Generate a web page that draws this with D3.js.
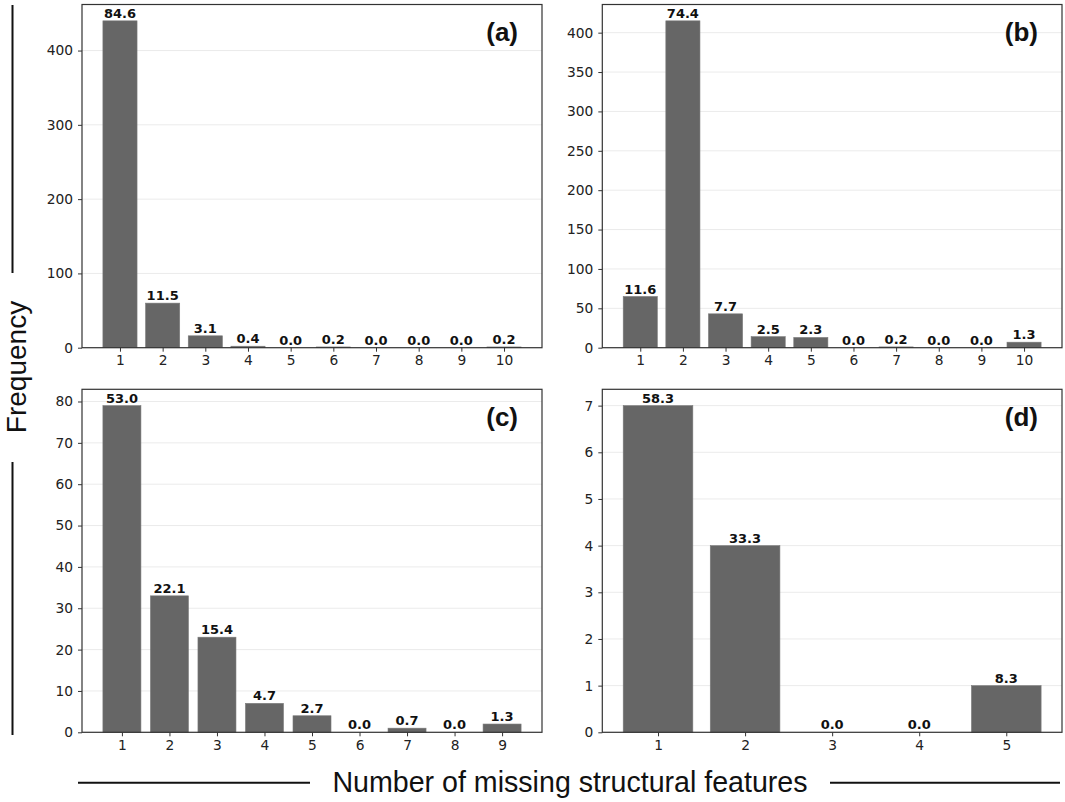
<!DOCTYPE html>
<html><head><meta charset="utf-8">
<script src="https://cdn.jsdelivr.net/npm/d3@7"></script>
<style>body{margin:0;background:#fff}svg{display:block}</style>
</head><body><svg id="chart" width="1065" height="802"></svg>
<script>
// ---- data ----
const panelLabels = ["(a)", "(b)", "(c)", "(d)"];
const categoriesA = [1, 2, 3, 4, 5, 6, 7, 8, 9, 10];
const countsA = [440, 60, 16, 2, 0, 1, 0, 0, 0, 1];
const percentA = ["84.6", "11.5", "3.1", "0.4", "0.0", "0.2", "0.0", "0.0", "0.0", "0.2"];
const yTicksA = [0, 100, 200, 300, 400];

const categoriesB = [1, 2, 3, 4, 5, 6, 7, 8, 9, 10];
const countsB = [65, 415, 43, 14, 13, 0, 1, 0, 0, 7];
const percentB = ["11.6", "74.4", "7.7", "2.5", "2.3", "0.0", "0.2", "0.0", "0.0", "1.3"];
const yTicksB = [0, 50, 100, 150, 200, 250, 300, 350, 400];

const categoriesC = [1, 2, 3, 4, 5, 6, 7, 8, 9];
const countsC = [79, 33, 23, 7, 4, 0, 1, 0, 2];
const percentC = ["53.0", "22.1", "15.4", "4.7", "2.7", "0.0", "0.7", "0.0", "1.3"];
const yTicksC = [0, 10, 20, 30, 40, 50, 60, 70, 80];

const categoriesD = [1, 2, 3, 4, 5];
const countsD = [7, 4, 0, 0, 1];
const percentD = ["58.3", "33.3", "0.0", "0.0", "8.3"];
const yTicksD = [0, 1, 2, 3, 4, 5, 6, 7];

const yAxisTitle = "Frequency";
const xAxisTitle = "Number of missing structural features";

// ---- layout ----
const panels = [
  {label: panelLabels[0], cats: categoriesA, counts: countsA, pct: percentA, ticks: yTicksA, x0: 82,  x1: 542,  y0: 4.5,   y1: 347.7},
  {label: panelLabels[1], cats: categoriesB, counts: countsB, pct: percentB, ticks: yTicksB, x0: 602.3, x1: 1062, y0: 4.5,  y1: 347.7},
  {label: panelLabels[2], cats: categoriesC, counts: countsC, pct: percentC, ticks: yTicksC, x0: 82,  x1: 542,  y0: 389.3, y1: 732.3},
  {label: panelLabels[3], cats: categoriesD, counts: countsD, pct: percentD, ticks: yTicksD, x0: 602.3, x1: 1062, y0: 389.3, y1: 732.3}
];

const svg = d3.select("#chart");
const barColor = "#666666";
const frameColor = "#333333";
const tickFont = "DejaVu Sans, sans-serif";

panels.forEach(p => {
  const lo = d3.min(p.cats) - 0.4, hi = d3.max(p.cats) + 0.4;
  const m = 0.05 * (hi - lo);
  const x = d3.scaleLinear().domain([lo - m, hi + m]).range([p.x0, p.x1]);
  const y = d3.scaleLinear().domain([0, d3.max(p.counts) * 1.05]).range([p.y1, p.y0]);
  const g = svg.append("g");

  // grid
  g.selectAll("line.grid").data(p.ticks).enter().append("line")
    .attr("x1", p.x0).attr("x2", p.x1)
    .attr("y1", d => y(d)).attr("y2", d => y(d))
    .attr("stroke", "#ebebeb").attr("stroke-width", 1);

  // bars
  const bw = x(0.8) - x(0);
  g.selectAll("rect.bar").data(p.cats).enter().append("rect")
    .attr("x", (d) => x(d) - bw / 2)
    .attr("width", bw)
    .attr("y", (d, i) => y(p.counts[i]))
    .attr("height", (d, i) => y(0) - y(p.counts[i]))
    .attr("fill", barColor)
    .attr("stroke", "#7a7a7a").attr("stroke-width", 0.6);

  // value labels
  g.selectAll("text.val").data(p.cats).enter().append("text")
    .attr("x", d => x(d))
    .attr("y", (d, i) => y(p.counts[i]) - 3)
    .attr("text-anchor", "middle")
    .attr("font-family", tickFont).attr("font-weight", "bold")
    .attr("font-size", 13).attr("fill", "#111")
    .text((d, i) => p.pct[i]);

  // frame
  g.append("rect").attr("x", p.x0).attr("y", p.y0)
    .attr("width", p.x1 - p.x0).attr("height", p.y1 - p.y0)
    .attr("fill", "none").attr("stroke", frameColor).attr("stroke-width", 1.2);

  // axes
  const xa = d3.axisBottom(x).tickValues(p.cats).tickFormat(d3.format("d")).tickSize(4).tickPadding(4);
  const ya = d3.axisLeft(y).tickValues(p.ticks).tickFormat(d3.format("d")).tickSize(4).tickPadding(5);
  const gx = g.append("g").attr("transform", `translate(0,${p.y1})`).call(xa);
  const gy = g.append("g").attr("transform", `translate(${p.x0},0)`).call(ya);
  [gx, gy].forEach(a => {
    a.select(".domain").remove();
    a.selectAll(".tick line").attr("stroke", frameColor).attr("stroke-width", 1);
    a.selectAll(".tick text").attr("font-family", tickFont).attr("font-size", 13.8).attr("fill", "#222");
  });

  // panel label
  g.append("text")
    .attr("x", p.x1 - 24).attr("y", p.y0 + 36.5)
    .attr("text-anchor", "end")
    .attr("font-family", "Liberation Sans, Arial, sans-serif")
    .attr("font-weight", "bold").attr("font-size", 26).attr("fill", "#111")
    .text(p.label);
});

// y axis title with side lines
svg.append("line").attr("x1", 12.5).attr("x2", 12.5).attr("y1", 5).attr("y2", 273)
  .attr("stroke", "#111").attr("stroke-width", 2);
svg.append("line").attr("x1", 12.5).attr("x2", 12.5).attr("y1", 462).attr("y2", 735)
  .attr("stroke", "#111").attr("stroke-width", 2);
svg.append("text")
  .attr("transform", "translate(25.5,367) rotate(-90)")
  .attr("text-anchor", "middle")
  .attr("font-family", "Liberation Sans, Arial, sans-serif")
  .attr("font-size", 28).attr("fill", "#111")
  .text(yAxisTitle);

// x axis title with side lines
svg.append("line").attr("x1", 78).attr("x2", 310).attr("y1", 782.7).attr("y2", 782.7)
  .attr("stroke", "#111").attr("stroke-width", 2);
svg.append("line").attr("x1", 830).attr("x2", 1060).attr("y1", 782.7).attr("y2", 782.7)
  .attr("stroke", "#111").attr("stroke-width", 2);
svg.append("text")
  .attr("x", 570).attr("y", 792)
  .attr("text-anchor", "middle")
  .attr("font-family", "Liberation Sans, Arial, sans-serif")
  .attr("font-size", 28.6).attr("fill", "#111")
  .text(xAxisTitle);
</script>
</body></html>
